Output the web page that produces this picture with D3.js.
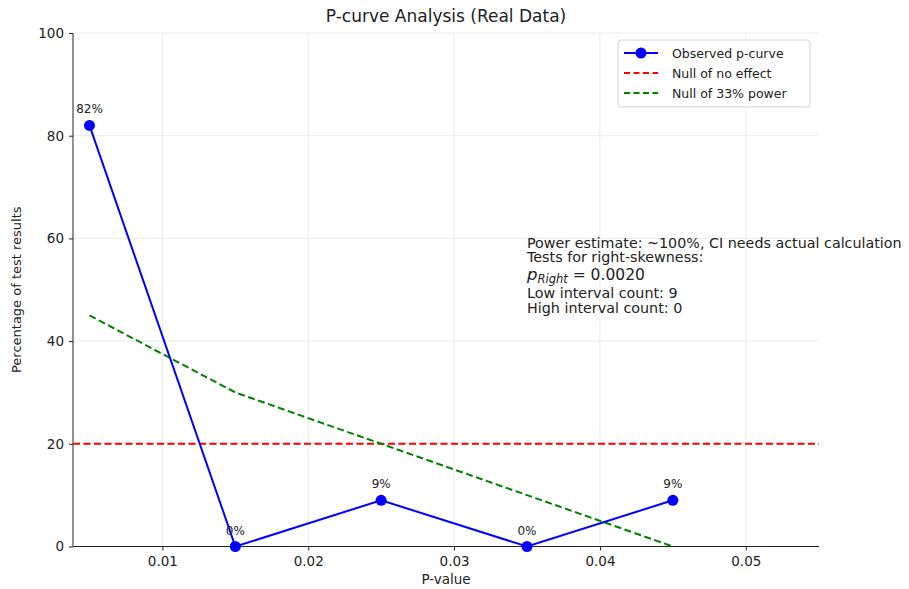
<!DOCTYPE html>
<html>
<head>
<meta charset="utf-8">
<script src="https://cdn.jsdelivr.net/npm/d3@7"></script>
<style>
  body { margin: 0; background: #fff; }
  svg text { font-family: "DejaVu Sans", sans-serif; fill: #222; }
  .grid line { stroke: #e6e6e6; stroke-width: 0.8; }
  .axis text { font-size: 13.5px; font-family: "DejaVu Sans", sans-serif; fill: #222; }
  .axis path, .axis line { stroke: #222; }
</style>
</head>
<body>
<svg width="909" height="589"></svg>
<script>
const pValues = [0.005, 0.015, 0.025, 0.035, 0.045];
const observed = [82, 0, 9, 0, 9];
const nullNoEffect = 20;
const null33 = [45, 30, 20, 10, 0];
const xTicks = [0.01, 0.02, 0.03, 0.04, 0.05];
const yTicks = [0, 20, 40, 60, 80, 100];
const notes = [
  'Power estimate: ~100%, CI needs actual calculation',
  'Tests for right-skewness:',
  null,
  'Low interval count: 9',
  'High interval count: 0'
];

const svg = d3.select('svg');
const margin = {top: 33, right: 90, bottom: 42.5, left: 73};
const width = +svg.attr('width');
const height = +svg.attr('height');
const innerWidth = width - margin.left - margin.right;
const innerHeight = height - margin.top - margin.bottom;

const xScale = d3.scaleLinear().domain([0.00387, 0.05502]).range([0, innerWidth]);
const yScale = d3.scaleLinear().domain([0, 100]).range([innerHeight, 0]);

const g = svg.append('g').attr('transform', `translate(${margin.left},${margin.top})`);

// grid
g.append('g').attr('class', 'grid')
  .selectAll('line.v').data(xTicks).join('line')
  .attr('x1', d => xScale(d)).attr('x2', d => xScale(d))
  .attr('y1', 0).attr('y2', innerHeight);
g.append('g').attr('class', 'grid')
  .selectAll('line.h').data(yTicks).join('line')
  .attr('x1', 0).attr('x2', innerWidth)
  .attr('y1', d => yScale(d)).attr('y2', d => yScale(d));

// axes
const xAxisG = g.append('g').attr('class', 'axis')
  .attr('transform', `translate(0,${innerHeight})`)
  .call(d3.axisBottom(xScale).tickValues(xTicks).tickFormat(d3.format('.2f')).tickSize(4).tickPadding(6));
const yAxisG = g.append('g').attr('class', 'axis')
  .call(d3.axisLeft(yScale).tickValues(yTicks).tickSize(4).tickPadding(5));
xAxisG.select('.domain').attr('d', `M0,0H${innerWidth}`);
yAxisG.select('.domain').attr('d', `M0,${innerHeight}V0`);
xAxisG.attr('font-family', null).attr('font-size', null);
yAxisG.attr('font-family', null).attr('font-size', null);

svg.append('text')
  .attr('x', margin.left + innerWidth / 2).attr('y', 584)
  .attr('text-anchor', 'middle').style('font-size', '13.5px')
  .text('P-value');
svg.append('text')
  .attr('transform', `translate(21,${margin.top + innerHeight / 2}) rotate(-90)`)
  .attr('text-anchor', 'middle').style('font-size', '13px')
  .text('Percentage of test results');
svg.append('text')
  .attr('x', margin.left + innerWidth / 2).attr('y', 22)
  .attr('text-anchor', 'middle').style('font-size', '17px')
  .text('P-curve Analysis (Real Data)');

// lines
const line = d3.line().x(d => xScale(d[0])).y(d => yScale(d[1]));

g.append('path')
  .attr('d', line([[xScale.domain()[0], nullNoEffect], [xScale.domain()[1], nullNoEffect]]))
  .attr('fill', 'none').attr('stroke', '#ff0000').attr('stroke-width', 2)
  .attr('stroke-dasharray', '7,3.5');

g.append('path')
  .attr('d', line(pValues.map((p, i) => [p, null33[i]])))
  .attr('fill', 'none').attr('stroke', '#008000').attr('stroke-width', 2)
  .attr('stroke-dasharray', '7,3.5');

g.append('path')
  .attr('d', line(pValues.map((p, i) => [p, observed[i]])))
  .attr('fill', 'none').attr('stroke', '#0000ff').attr('stroke-width', 2);

g.selectAll('circle.obs').data(pValues).join('circle')
  .attr('cx', d => xScale(d)).attr('cy', (d, i) => yScale(observed[i]))
  .attr('r', 5.5).attr('fill', '#0000ff');

g.selectAll('text.lbl').data(pValues).join('text')
  .attr('x', d => xScale(d)).attr('y', (d, i) => yScale(observed[i]) - 12)
  .attr('text-anchor', 'middle').style('font-size', '12px')
  .text((d, i) => observed[i] + '%');

// legend
const lg = svg.append('g').attr('transform', 'translate(618,40)');
lg.append('rect').attr('width', 192).attr('height', 67).attr('rx', 3)
  .attr('fill', 'white').attr('fill-opacity', 0.85).attr('stroke', '#d0d0d0');
const legendItems = [
  {label: 'Observed p-curve', color: '#0000ff', dash: null, marker: true},
  {label: 'Null of no effect', color: '#ff0000', dash: '6,3.5', marker: false},
  {label: 'Null of 33% power', color: '#008000', dash: '6,3.5', marker: false}
];
legendItems.forEach((it, i) => {
  const y = 13 + i * 20;
  lg.append('line').attr('x1', 6).attr('x2', 40).attr('y1', y).attr('y2', y)
    .attr('stroke', it.color).attr('stroke-width', 2)
    .attr('stroke-dasharray', it.dash);
  if (it.marker) lg.append('circle').attr('cx', 23).attr('cy', y).attr('r', 5.5).attr('fill', it.color);
  lg.append('text').attr('x', 54).attr('y', y + 4.5).style('font-size', '12.5px').text(it.label);
});

// annotation
const notesY = [248, 262, 280, 298, 313];
const ng = svg.append('g');
notes.forEach((t, i) => {
  if (t === null) {
    const tx = ng.append('text').attr('x', 527).attr('y', notesY[i]).style('font-size', '13px');
    tx.append('tspan').style('font-style', 'italic').style('font-size', '16.5px').text('p');
    tx.append('tspan').style('font-style', 'italic').style('font-size', '11.5px').attr('dy', 3).text('Right');
    tx.append('tspan').attr('dy', -3).style('font-size', '15.5px').text(' = 0.0020');
  } else {
    ng.append('text').attr('x', 527).attr('y', notesY[i]).style('font-size', '14.3px').text(t);
  }
});
</script>
</body>
</html>
